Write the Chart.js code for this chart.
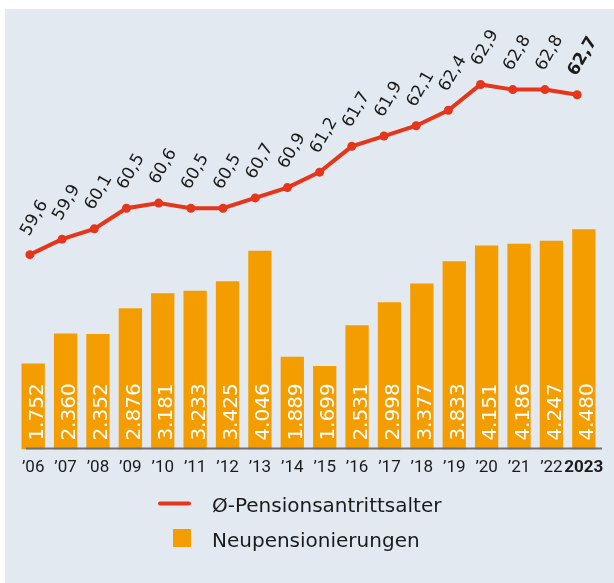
<!DOCTYPE html>
<html>
<head>
<meta charset="utf-8">
<script src="https://cdn.jsdelivr.net/npm/chart.js@4"></script>
<style>
  html, body { margin: 0; padding: 0; background: #ffffff; }
  #wrap { width: 614px; height: 583px; position: relative; }
  canvas { display: block; }
</style>
</head>
<body>
<div id="wrap"><canvas id="c" width="614" height="583"></canvas></div>
<script>
// ---- data ----
const yearLabels = ['\u201906','\u201907','\u201908','\u201909','\u201910','\u201911','\u201912','\u201913','\u201914','\u201915','\u201916','\u201917','\u201918','\u201919','\u201920','\u201921','\u201922','2023'];
const newPensions = [1752, 2360, 2352, 2876, 3181, 3233, 3425, 4046, 1889, 1699, 2531, 2998, 3377, 3833, 4151, 4186, 4247, 4480];
const avgRetirementAge = [59.6, 59.9, 60.1, 60.5, 60.6, 60.5, 60.5, 60.7, 60.9, 61.2, 61.7, 61.9, 62.1, 62.4, 62.9, 62.8, 62.8, 62.7];
const seriesNames = ['\u00D8-Pensionsantrittsalter', 'Neupensionierungen'];

const BAR_COLOR = '#f49d00';
const LINE_COLOR = '#e5351a';
const PANEL_COLOR = '#e2e9f0';
const TEXT_COLOR = '#1b1b1b';

function fmtThousands(v) {
  const s = String(Math.round(v));
  return s.replace(/\B(?=(\d{3})+(?!\d))/g, '.');
}
function fmtDecimal(v) {
  return v.toFixed(1).replace('.', ',');
}

const panelPlugin = {
  id: 'panel',
  beforeDraw(chart) {
    const ctx = chart.ctx;
    ctx.save();
    ctx.fillStyle = PANEL_COLOR;
    ctx.fillRect(5, 9, chart.width - 5, chart.height - 9);
    ctx.restore();
  }
};

const labelsPlugin = {
  id: 'valueLabels',
  afterDatasetsDraw(chart) {
    const ctx = chart.ctx;
    const xs = chart.scales.x;
    // baseline
    ctx.save();
    ctx.strokeStyle = '#6f6f6f';
    ctx.lineWidth = 2;
    ctx.beginPath();
    ctx.moveTo(xs.left + 9, chart.chartArea.bottom - 1);
    ctx.lineTo(xs.right + 2, chart.chartArea.bottom - 1);
    ctx.stroke();
    ctx.restore();

    // bar labels
    const barMeta = chart.getDatasetMeta(1);
    ctx.save();
    ctx.fillStyle = '#ffffff';
    ctx.font = '20px "DejaVu Sans", sans-serif';
    ctx.textAlign = 'left';
    ctx.textBaseline = 'alphabetic';
    barMeta.data.forEach((bar, i) => {
      ctx.save();
      ctx.translate(bar.x + 9.5, bar.base - 9);
      ctx.rotate(-Math.PI / 2);
      ctx.fillText(fmtThousands(newPensions[i]), 0, 0);
      ctx.restore();
    });
    ctx.restore();

    // line labels
    const lineMeta = chart.getDatasetMeta(0);
    ctx.save();
    ctx.fillStyle = TEXT_COLOR;
    ctx.textAlign = 'left';
    ctx.textBaseline = 'alphabetic';
    const ang = -60 * Math.PI / 180;
    lineMeta.data.forEach((pt, i) => {
      const last = i === avgRetirementAge.length - 1;
      ctx.font = (last ? 'bold ' : '') + '17px "DejaVu Sans", sans-serif';
      ctx.save();
      ctx.translate(pt.x - 1, pt.y - 18);
      ctx.rotate(ang);
      ctx.fillText(fmtDecimal(avgRetirementAge[i]), 0, 0);
      ctx.restore();
    });
    ctx.restore();
  },
  afterDraw(chart) {
    // legend
    const ctx = chart.ctx;
    ctx.save();
    ctx.strokeStyle = LINE_COLOR;
    ctx.lineWidth = 4;
    ctx.lineCap = 'round';
    ctx.beginPath();
    ctx.moveTo(160, 503.5);
    ctx.lineTo(189, 503.5);
    ctx.stroke();
    ctx.fillStyle = BAR_COLOR;
    ctx.fillRect(173, 529, 18, 18);
    ctx.fillStyle = TEXT_COLOR;
    ctx.font = '20px "DejaVu Sans", sans-serif';
    ctx.textAlign = 'left';
    ctx.textBaseline = 'alphabetic';
    ctx.fillText(seriesNames[0], 212, 512);
    ctx.fillText(seriesNames[1], 212, 547);
    ctx.restore();
  }
};

new Chart(document.getElementById('c'), {
  type: 'bar',
  data: {
    labels: yearLabels,
    datasets: [
      {
        type: 'line',
        label: seriesNames[0],
        data: avgRetirementAge.map((v, i) => ({ x: i, y: v })),
        xAxisID: 'x2',
        yAxisID: 'yAge',
        borderColor: LINE_COLOR,
        backgroundColor: LINE_COLOR,
        borderWidth: 4,
        pointRadius: 4.5,
        pointHoverRadius: 4.5,
        pointBorderWidth: 0,
        tension: 0,
        order: 0
      },
      {
        type: 'bar',
        label: seriesNames[1],
        data: newPensions,
        xAxisID: 'x',
        yAxisID: 'yCount',
        backgroundColor: BAR_COLOR,
        borderWidth: 0,
        grouped: false,
        barPercentage: 0.9,
        categoryPercentage: 0.8,
        order: 1
      }
    ]
  },
  options: {
    responsive: false,
    animation: false,
    devicePixelRatio: 1,
    layout: { padding: { left: 17, right: 14, top: 20, bottom: 97 } },
    plugins: { legend: { display: false }, tooltip: { enabled: false } },
    scales: {
      x: {
        type: 'category',
        offset: true,
        grid: { display: false, drawTicks: false, tickLength: 0 },
        border: { display: false },
        ticks: {
          padding: 8,
          color: TEXT_COLOR,
          maxRotation: 0,
          autoSkip: false,
          font: (c) => ({
            family: 'Roboto, sans-serif',
            size: 17,
            weight: c.index === yearLabels.length - 1 ? 'bold' : 'normal'
          })
        }
      },
      x2: {
        type: 'linear',
        display: false,
        offset: false,
        grid: { offset: false },
        min: -0.4,
        max: 17.71
      },
      yCount: {
        type: 'linear',
        display: false,
        min: 0,
        max: 8737
      },
      yAge: {
        type: 'linear',
        display: false,
        min: 55.82,
        max: 64.15
      }
    }
  },
  plugins: [panelPlugin, labelsPlugin]
});
</script>
</body>
</html>
